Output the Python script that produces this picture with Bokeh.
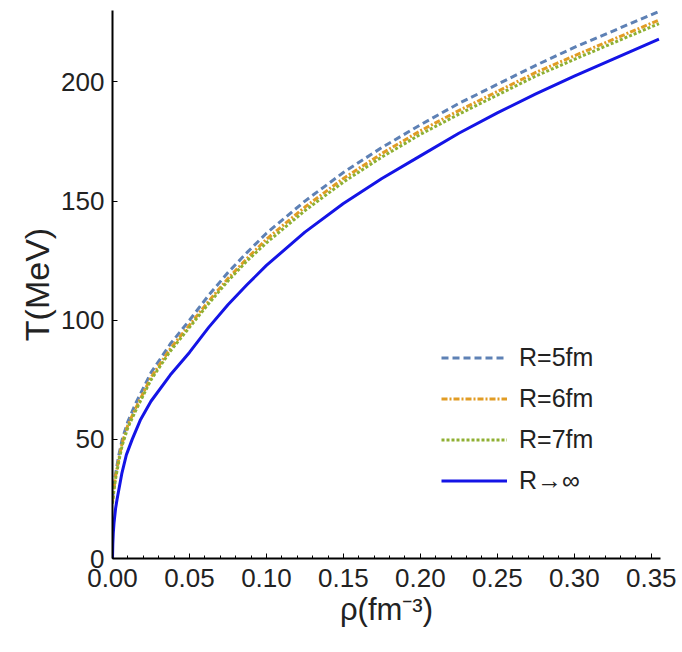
from bokeh.plotting import figure
from bokeh.models import Range1d, Legend, LegendItem, FixedTicker, PrintfTickFormatter
from bokeh.embed import file_html
from bokeh.resources import INLINE

# Data
rho_inf = [0.0, 0.0002, 0.0005, 0.001, 0.002, 0.003, 0.006, 0.009, 0.0128, 0.018, 0.025, 0.0375,
           0.05, 0.0625, 0.075, 0.0875, 0.10, 0.125, 0.15, 0.175, 0.20, 0.225, 0.25, 0.275, 0.30, 0.355]
T_inf   = [0.0, 6.0, 10.5, 15.0, 21.0, 25.0, 35.5, 43.5, 50.0, 58.0, 66.0, 77.0,
           86.5, 97.0, 106.5, 115.0, 123.0, 137.0, 149.0, 159.5, 169.0, 178.5, 187.0, 195.0, 202.5, 218.0]

rho_R = [0.0, 0.0008, 0.002, 0.004, 0.0063, 0.01, 0.015, 0.025, 0.0375, 0.05, 0.0625, 0.075,
         0.0875, 0.10, 0.125, 0.15, 0.175, 0.20, 0.225, 0.25, 0.275, 0.30, 0.355]
T_R5  = [25.0, 30.0, 35.5, 43.0, 50.0, 57.5, 65.0, 78.0, 90.0, 100.0, 110.5, 120.0,
         128.5, 136.5, 150.0, 162.0, 172.5, 182.0, 191.0, 199.0, 207.0, 214.5, 229.6]
T_R6  = [24.0, 29.0, 34.5, 41.5, 48.5, 56.0, 63.0, 76.0, 88.0, 98.0, 108.0, 117.5,
         126.0, 134.0, 147.5, 159.5, 170.0, 179.5, 188.0, 196.0, 204.0, 211.0, 226.0]
T_R7  = [23.0, 28.0, 33.5, 40.5, 47.5, 55.0, 62.0, 75.0, 87.0, 97.0, 107.0, 116.5,
         125.0, 132.5, 146.0, 158.0, 168.5, 178.0, 186.5, 194.5, 202.5, 209.5, 224.5]

x_ticks = [0.0, 0.05, 0.10, 0.15, 0.20, 0.25, 0.30, 0.35]
y_ticks = [0, 50, 100, 150, 200]
labels = ["R=5fm", "R=6fm", "R=7fm", "R\u2192\u221e"]

FONT = "Liberation Sans"

p = figure(width=678, height=644, output_backend="svg", toolbar_location=None,
           x_range=Range1d(0, 0.356), y_range=Range1d(0, 230),
           min_border_left=112, min_border_right=18, min_border_top=10, min_border_bottom=86)
p.outline_line_color = None
p.grid.visible = False
p.background_fill_color = "white"
p.border_fill_color = "white"

r5 = p.line(rho_R, T_R5, line_color="#5E81B5", line_width=3, line_dash="7 4")
r6 = p.line(rho_R, T_R6, line_color="#E19C24", line_width=3, line_dash="6 2 2 2")
r7 = p.line(rho_R, T_R7, line_color="#8FB032", line_width=3, line_dash="3 2")
ri = p.line(rho_inf, T_inf, line_color="#1414E6", line_width=3)

for ax in (p.xaxis, p.yaxis):
    ax.axis_line_color = "black"
    ax.axis_line_width = 2
    ax.major_tick_in = 5
    ax.major_tick_out = 0
    ax.minor_tick_in = 3
    ax.minor_tick_out = 0
    ax.major_tick_line_color = "black"
    ax.minor_tick_line_color = "black"
    ax.major_label_text_font = FONT
    ax.major_label_text_font_size = "26px"
    ax.major_label_text_color = "#222222"
    ax.axis_label_text_font = FONT
    ax.axis_label_text_font_style = "normal"
    ax.axis_label_text_color = "#222222"

p.xaxis.axis_label_text_font_size = "31px"
p.yaxis.axis_label_text_font_size = "34px"
p.xaxis.ticker = FixedTicker(ticks=x_ticks,
                             minor_ticks=[round(i * 0.01, 3) for i in range(0, 36)])
p.xaxis.formatter = PrintfTickFormatter(format="%.2f")
p.yaxis.ticker = FixedTicker(ticks=y_ticks, minor_ticks=[])
p.xaxis.major_label_standoff = 10
p.yaxis.major_label_standoff = 8
p.xaxis.axis_label = "\u03c1(fm\u207b\u00b3)"
p.yaxis.axis_label = "T(MeV)"
p.xaxis.axis_label_standoff = 2
p.yaxis.axis_label_standoff = 2

legend = Legend(items=[LegendItem(label=labels[0], renderers=[r5]),
                       LegendItem(label=labels[1], renderers=[r6]),
                       LegendItem(label=labels[2], renderers=[r7]),
                       LegendItem(label=labels[3], renderers=[ri])],
                location=(329, 63), orientation="vertical")
legend.border_line_color = None
legend.background_fill_alpha = 0
legend.label_text_font = FONT
legend.label_text_font_size = "25px"
legend.label_text_color = "#222222"
legend.glyph_width = 66
legend.glyph_height = 29
legend.label_height = 29
legend.label_standoff = 12
legend.spacing = 12
legend.padding = 0
legend.margin = 0
p.add_layout(legend, "center")

open("out.html", "w").write(file_html(p, INLINE))
